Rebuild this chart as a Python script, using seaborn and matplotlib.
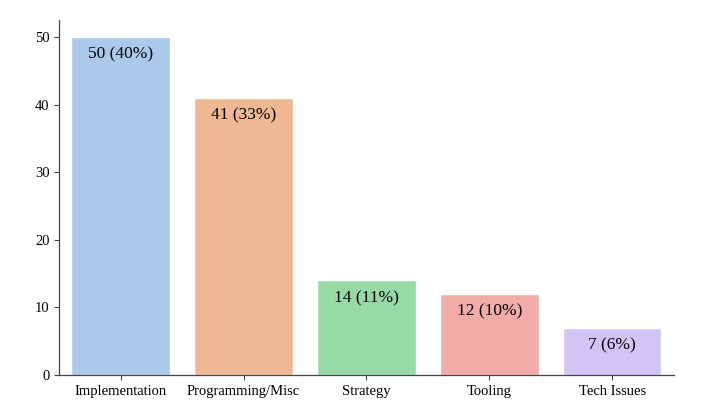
import matplotlib
matplotlib.use("Agg")
import matplotlib.pyplot as plt
import pandas as pd
import seaborn as sns

categories = ["Implementation", "Programming/Misc", "Strategy", "Tooling", "Tech Issues"]
counts = [50, 41, 14, 12, 7]
percents = [40, 33, 11, 10, 6]

sns.set_theme(style="ticks", rc={
    'axes.linewidth': 0.9, 'axes.edgecolor': '#444444',
    'xtick.major.size': 3.5, 'ytick.major.size': 3.5,
    'xtick.major.width': 0.8, 'ytick.major.width': 0.8,
    'xtick.color': '#444444', 'ytick.color': '#444444',
})
plt.rcParams['font.family'] = ['Liberation Serif', 'DejaVu Serif']

df = pd.DataFrame({'category': categories, 'count': counts})

fig, ax = plt.subplots(figsize=(7.04, 4.03), dpi=100)
sns.barplot(data=df, x='category', y='count', hue='category',
            palette='pastel', legend=False, ax=ax)

for i, (c, p) in enumerate(zip(counts, percents)):
    ax.annotate(f"{c} ({p}%)", xy=(i, c), xytext=(0, -7), textcoords='offset points',
                ha='center', va='top', fontsize=12.5, color='black')

ax.set_xlabel("")
ax.set_ylabel("")
ax.tick_params(labelsize=10.5, labelcolor='black')
sns.despine(ax=ax)
fig.subplots_adjust(left=0.084, right=0.957, top=0.95, bottom=0.07)
fig.savefig("out.png", dpi=100)
